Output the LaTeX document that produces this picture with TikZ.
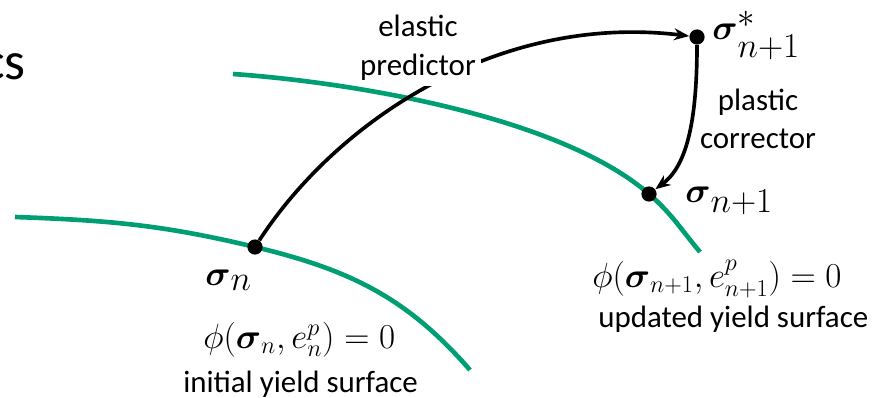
\documentclass[tikz,border=0pt]{standalone}
\usepackage[no-math]{fontspec}
\setmainfont{Carlito}
\usepackage{amsmath}
\usepackage{amssymb}
\usetikzlibrary{arrows.meta, positioning, calc}
\definecolor{yieldgreen}{HTML}{009E73}
\tikzset{
  statedot/.style={circle, fill=black, inner sep=0pt, minimum size=0.38cm},
  surface/.style={draw=yieldgreen, line width=3.3pt},
  update/.style={draw=black, line width=2.6pt, -{Stealth[length=0.38cm, width=0.3cm]}},
  steplabel/.style={font=\fontsize{22}{27.5}\selectfont, align=center, inner sep=4pt},
  mathlabel/.style={font=\fontsize{34}{40}\selectfont, inner sep=0pt, anchor=base west},
  formula/.style={font=\fontsize{26}{31}\selectfont, inner sep=0pt, anchor=base west},
}

\begin{document}
\begin{tikzpicture}
    \useasboundingbox (0,0) rectangle (22.15,9.925);

    % end of the slide title, cut off at the left
    \node[anchor=base east, inner sep=0pt, font=\fontsize{38}{44}\selectfont] (title) at (0.65,7.925) {cs};

    % initial yield surface
    \draw[surface] (0.375,4.5) to[out=-2,in=166.5] (6.375,3.75) to[out=-13.5,in=131] (11.75,0.675);
    % updated yield surface
    \draw[surface] (5.825,8.075) to[out=-4,in=139,looseness=0.7] (16.225,5.075) to[out=-41,in=130] (17.5,3.625);

    % stress states
    \node[statedot] (sn) at (6.375,3.75) {};
    \node[statedot] (strial) at (17.425,9.0) {};
    \node[statedot] (snew) at (16.225,5.075) {};

    \draw[update] (sn) .. controls (8.425,6.9) and (12.45,9.6) .. (strial);
    \draw[update] (strial) .. controls (17.425,6.75) and (17.125,5.75) .. (snew);

    \node[steplabel, fill=white] (elastic) at (10.45,8.725) {elastic\\predictor};
    \node[steplabel] (plastic) at (18.95,6.95) {plastic\\corrector};

    \node[mathlabel] (snlabel) at (5.125,2.8) {$\boldsymbol{\sigma}_n$};
    \node[mathlabel] (striallabel) at (17.8,8.925) {$\boldsymbol{\sigma}^*_{n+1}$};
    \node[mathlabel] (snewlabel) at (17.125,4.875) {$\boldsymbol{\sigma}_{n+1}$};

    % yield conditions
    \node[formula] (phiold) at (5.075,1.225) {$\phi(\boldsymbol{\sigma}_n, e^p_n) = 0$};
    \node[steplabel, anchor=base west, inner sep=0pt] (oldname) at (4.575,0.125) {initial yield surface};
    \node[formula] (phinew) at (14.8,2.75) {$\phi(\boldsymbol{\sigma}_{n+1}, e^p_{n+1}) = 0$};
    \node[steplabel, anchor=base west, inner sep=0pt] (newname) at (14.95,1.75) {updated yield surface};
\end{tikzpicture}
\end{document}
